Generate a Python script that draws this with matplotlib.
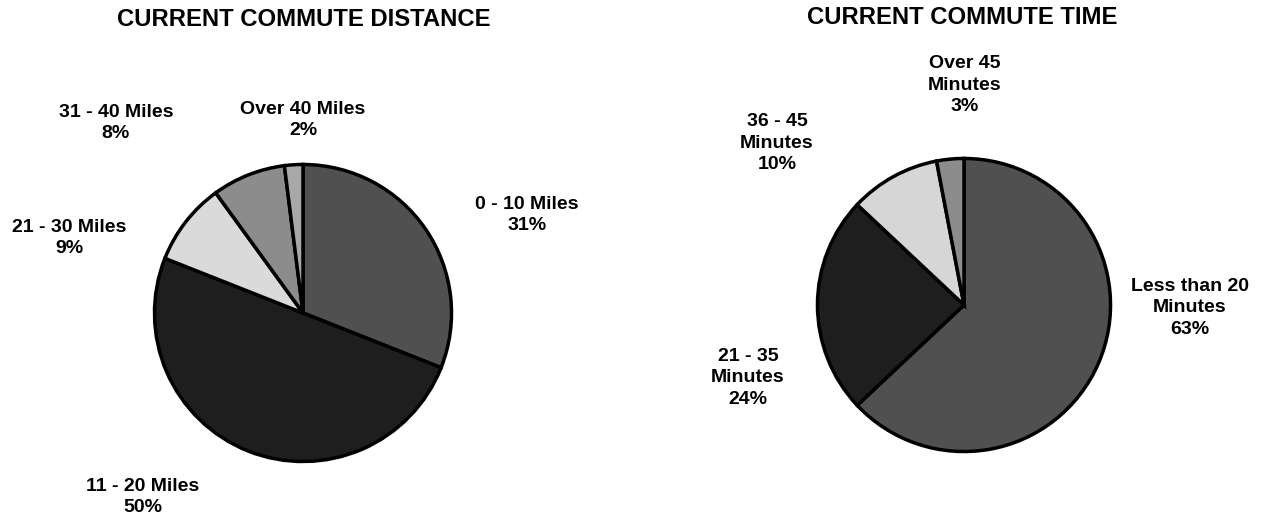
import matplotlib
matplotlib.use("Agg")
import matplotlib.pyplot as plt

plt.rcParams['font.family'] = ['Liberation Sans', 'DejaVu Sans']

# distance pie
dist_labels = ["0 - 10 Miles", "11 - 20 Miles", "21 - 30 Miles", "31 - 40 Miles", "Over 40 Miles"]
dist_values = [31, 50, 9, 8, 2]
dist_colors = ["#505050", "#1e1e1e", "#dadada", "#8c8c8c", "#a8a8a8"]

# time pie
time_labels = ["Less than 20\nMinutes", "21 - 35\nMinutes", "36 - 45\nMinutes", "Over 45\nMinutes"]
time_values = [63, 24, 10, 3]
time_colors = ["#505050", "#1e1e1e", "#d6d6d6", "#8c8c8c"]

W, H = 1267, 521
fig = plt.figure(figsize=(W / 100, H / 100), dpi=100)
fig.patch.set_facecolor("white")


def pie_axes(cx, cy, r):
    ax = fig.add_axes([(cx - r) / W, (H - cy - r) / H, 2 * r / W, 2 * r / H])
    ax.axis("off")
    return ax


def put(x, y, s, size=14):
    fig.text(x / W, 1 - y / H, s, ha="center", va="center", fontsize=size,
             fontweight="bold", linespacing=1.35)


ax1 = pie_axes(303, 313, 150)
ax1.pie(dist_values, colors=dist_colors, startangle=90, counterclock=False, radius=1,
        wedgeprops=dict(edgecolor="black", linewidth=2.5))

ax2 = pie_axes(964, 305, 148)
ax2.pie(time_values, colors=time_colors, startangle=90, counterclock=False, radius=1,
        wedgeprops=dict(edgecolor="black", linewidth=2.5))

for ax in (ax1, ax2):
    ax.set_xlim(-1.01, 1.01)
    ax.set_ylim(-1.01, 1.01)
    ax.set_aspect("equal")

put(304, 20, "CURRENT COMMUTE DISTANCE", 17.2)
put(962, 18, "CURRENT COMMUTE TIME", 17.2)

dist_pos = [(527, 215), (143, 497), (69, 238), (116, 123), (303, 120)]
for (x, y), lab, v in zip(dist_pos, dist_labels, dist_values):
    put(x, y, f"{lab}\n{v}%")

time_pos = [(1190, 308), (748, 378), (777, 143), (965, 85)]
for (x, y), lab, v in zip(time_pos, time_labels, time_values):
    put(x, y, f"{lab}\n{v}%")

fig.savefig("out.png", dpi=100)
